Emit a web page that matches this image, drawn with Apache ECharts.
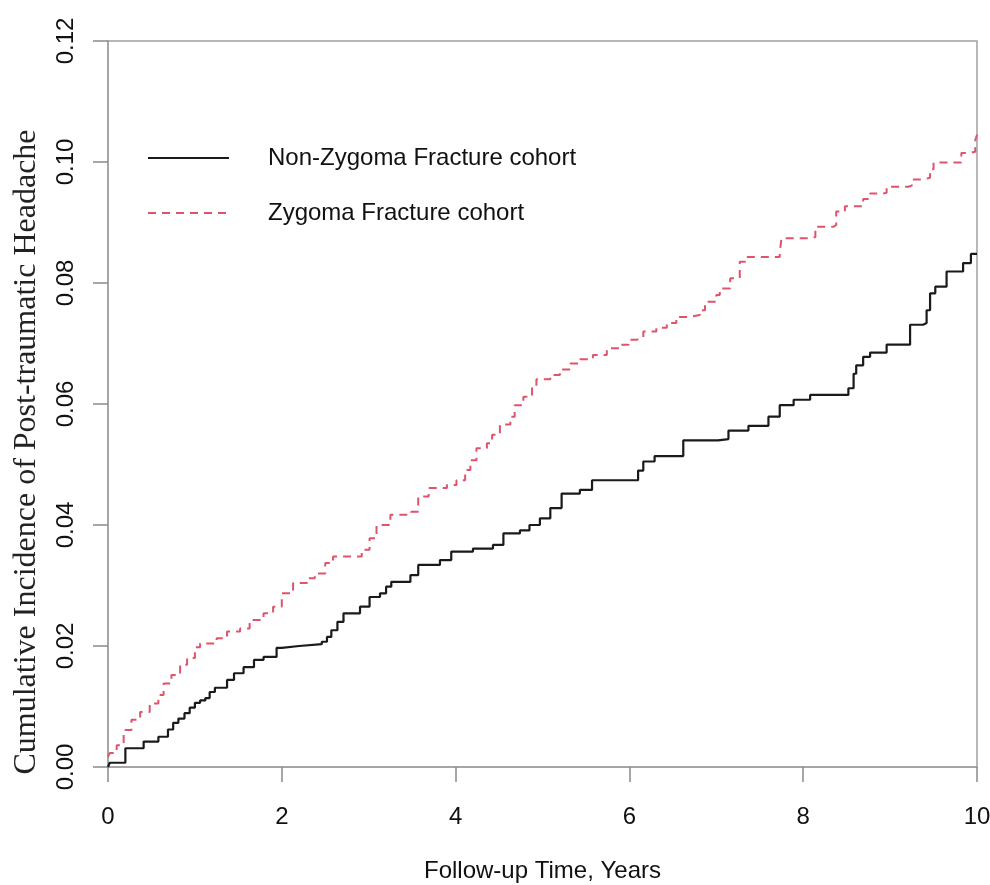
<!DOCTYPE html>
<html>
<head>
<meta charset="utf-8">
<script src="https://cdn.jsdelivr.net/npm/echarts@6/dist/echarts.min.js"></script>
<style>
html,body{margin:0;padding:0;background:#fff;}
#chart{width:990px;height:885px;}
</style>
</head>
<body>
<div id="chart"></div>
<script>
// Follow-up time (years) and cumulative incidence
var nonZygomaTime = [0,0.02,0.2,0.41,0.58,0.69,0.75,0.81,0.88,0.94,1.0,1.06,1.12,1.17,1.23,1.37,1.45,1.56,1.68,1.79,1.94,2.0,2.2,2.46,2.52,2.57,2.64,2.71,2.9,3.01,3.13,3.2,3.26,3.48,3.57,3.82,3.95,4.2,4.43,4.55,4.74,4.85,4.97,5.09,5.22,5.43,5.57,6.1,6.16,6.29,6.62,7.02,7.14,7.37,7.6,7.73,7.89,8.08,8.52,8.58,8.61,8.69,8.77,8.96,9.23,9.38,9.42,9.46,9.52,9.65,9.84,9.93,10];
var nonZygomaValue = [0,0.0007,0.0031,0.0042,0.005,0.0062,0.0073,0.008,0.0089,0.0098,0.0106,0.011,0.0114,0.0124,0.0131,0.0144,0.0155,0.0165,0.0177,0.0182,0.0197,0.02,0.0203,0.0207,0.0215,0.0226,0.024,0.0254,0.0265,0.0281,0.0287,0.0298,0.0306,0.0317,0.0334,0.0342,0.0356,0.0361,0.0367,0.0386,0.0391,0.04,0.0411,0.0428,0.0452,0.0458,0.0474,0.049,0.0505,0.0514,0.054,0.0542,0.0556,0.0564,0.0579,0.0598,0.0607,0.0615,0.0626,0.065,0.0664,0.0678,0.0685,0.0698,0.0731,0.0734,0.0755,0.0783,0.0794,0.0819,0.0833,0.0848,0.0848];

var zygomaTime = [0,0.02,0.1,0.18,0.27,0.37,0.48,0.58,0.64,0.73,0.83,0.91,1.0,1.06,1.25,1.37,1.52,1.63,1.79,1.9,2.0,2.13,2.29,2.38,2.5,2.59,2.92,3.01,3.09,3.25,3.49,3.57,3.69,3.9,4.01,4.11,4.17,4.24,4.36,4.42,4.51,4.63,4.68,4.78,4.88,4.93,5.09,5.2,5.32,5.43,5.58,5.74,5.89,5.99,6.08,6.16,6.31,6.43,6.54,6.7,6.81,6.87,7.0,7.04,7.16,7.27,7.35,7.73,7.75,8.1,8.14,8.35,8.38,8.48,8.69,8.77,8.92,8.96,9.21,9.25,9.38,9.46,9.5,9.79,9.82,9.92,9.98,10];
var zygomaValue = [0.0017,0.0023,0.0036,0.0061,0.0078,0.0091,0.0105,0.0119,0.0138,0.0152,0.0169,0.018,0.0198,0.0204,0.0213,0.0224,0.0229,0.0243,0.0254,0.0265,0.0287,0.0304,0.0312,0.032,0.0337,0.0348,0.0359,0.0378,0.04,0.0417,0.0422,0.0447,0.0461,0.0466,0.0474,0.0491,0.0507,0.0527,0.0535,0.0549,0.0566,0.0579,0.0598,0.0612,0.0628,0.0641,0.0648,0.0657,0.0667,0.0674,0.0681,0.0692,0.0698,0.0706,0.0709,0.072,0.0726,0.0734,0.0744,0.0747,0.0755,0.0769,0.078,0.0791,0.0808,0.0835,0.0843,0.085,0.0874,0.0876,0.0893,0.0896,0.0918,0.0927,0.0939,0.0948,0.0949,0.0959,0.0961,0.0971,0.0974,0.0988,0.0999,0.0999,0.1015,0.1017,0.1036,0.1045];

var seriesNames = ['Non-Zygoma Fracture cohort', 'Zygoma Fracture cohort'];
var xTicks = [0, 2, 4, 6, 8, 10];
var yTicks = [0, 0.02, 0.04, 0.06, 0.08, 0.10, 0.12];

function pairs(t, v) { return t.map(function (x, i) { return [x, v[i]]; }); }

var axisGray = '#a0a0a0';
var chart = echarts.init(document.getElementById('chart'), null, {renderer: 'canvas'});
chart.setOption({
  animation: false,
  backgroundColor: '#ffffff',
  grid: {left: 108, top: 41, right: 13, bottom: 118, outerBoundsMode: 'none', containLabel: false,
    show: true, borderColor: axisGray, borderWidth: 1.5, backgroundColor: 'transparent'},
  legend: {
    orient: 'vertical', left: 142, top: 141, itemWidth: 81, itemHeight: 14, itemGap: 31,
    itemStyle: {opacity: 0},
    textStyle: {fontFamily: 'Liberation Sans, Arial, sans-serif', fontSize: 24, color: '#111', padding: [0, 0, 0, 34]},
    data: seriesNames
  },
  xAxis: {
    type: 'value', min: xTicks[0], max: xTicks[xTicks.length - 1], interval: 2,
    name: 'Follow-up Time, Years', nameLocation: 'middle', nameGap: 92,
    nameTextStyle: {fontFamily: 'Liberation Sans, Arial, sans-serif', fontSize: 24, color: '#111'},
    axisLine: {show: true, lineStyle: {color: axisGray, width: 1.5}},
    axisTick: {show: true, length: 15, lineStyle: {color: '#8a8a8a', width: 1.5}},
    axisLabel: {fontFamily: 'Liberation Sans, Arial, sans-serif', fontSize: 24, color: '#111', margin: 38},
    splitLine: {show: false}
  },
  yAxis: {
    type: 'value', min: yTicks[0], max: yTicks[yTicks.length - 1], interval: 0.02,
    axisLine: {show: true, lineStyle: {color: axisGray, width: 1.5}},
    axisTick: {show: true, length: 15, lineStyle: {color: '#8a8a8a', width: 1.5}},
    axisLabel: {fontFamily: 'Liberation Sans, Arial, sans-serif', fontSize: 24, color: '#111', rotate: 90, margin: 30,
      formatter: function (v) { return v.toFixed(2); }},
    splitLine: {show: false}
  },
  graphic: [{
    type: 'text', x: 27, y: 452, rotation: Math.PI / 2,
    style: {text: 'Cumulative Incidence of Post-traumatic Headache', fontFamily: 'Liberation Serif, Times New Roman, serif',
      fontSize: 32, fill: '#222', align: 'center', verticalAlign: 'middle'}
  }],
  series: [
    {name: seriesNames[0], type: 'line', step: 'end', symbol: 'none', data: pairs(nonZygomaTime, nonZygomaValue),
      lineStyle: {color: '#1a1a1a', width: 2.2}, itemStyle: {color: '#1a1a1a'}},
    {name: seriesNames[1], type: 'line', step: 'end', symbol: 'none', data: pairs(zygomaTime, zygomaValue),
      lineStyle: {color: '#DF536B', width: 2, type: [8, 6]}, itemStyle: {color: '#DF536B'}}
  ]
});
</script>
</body>
</html>
